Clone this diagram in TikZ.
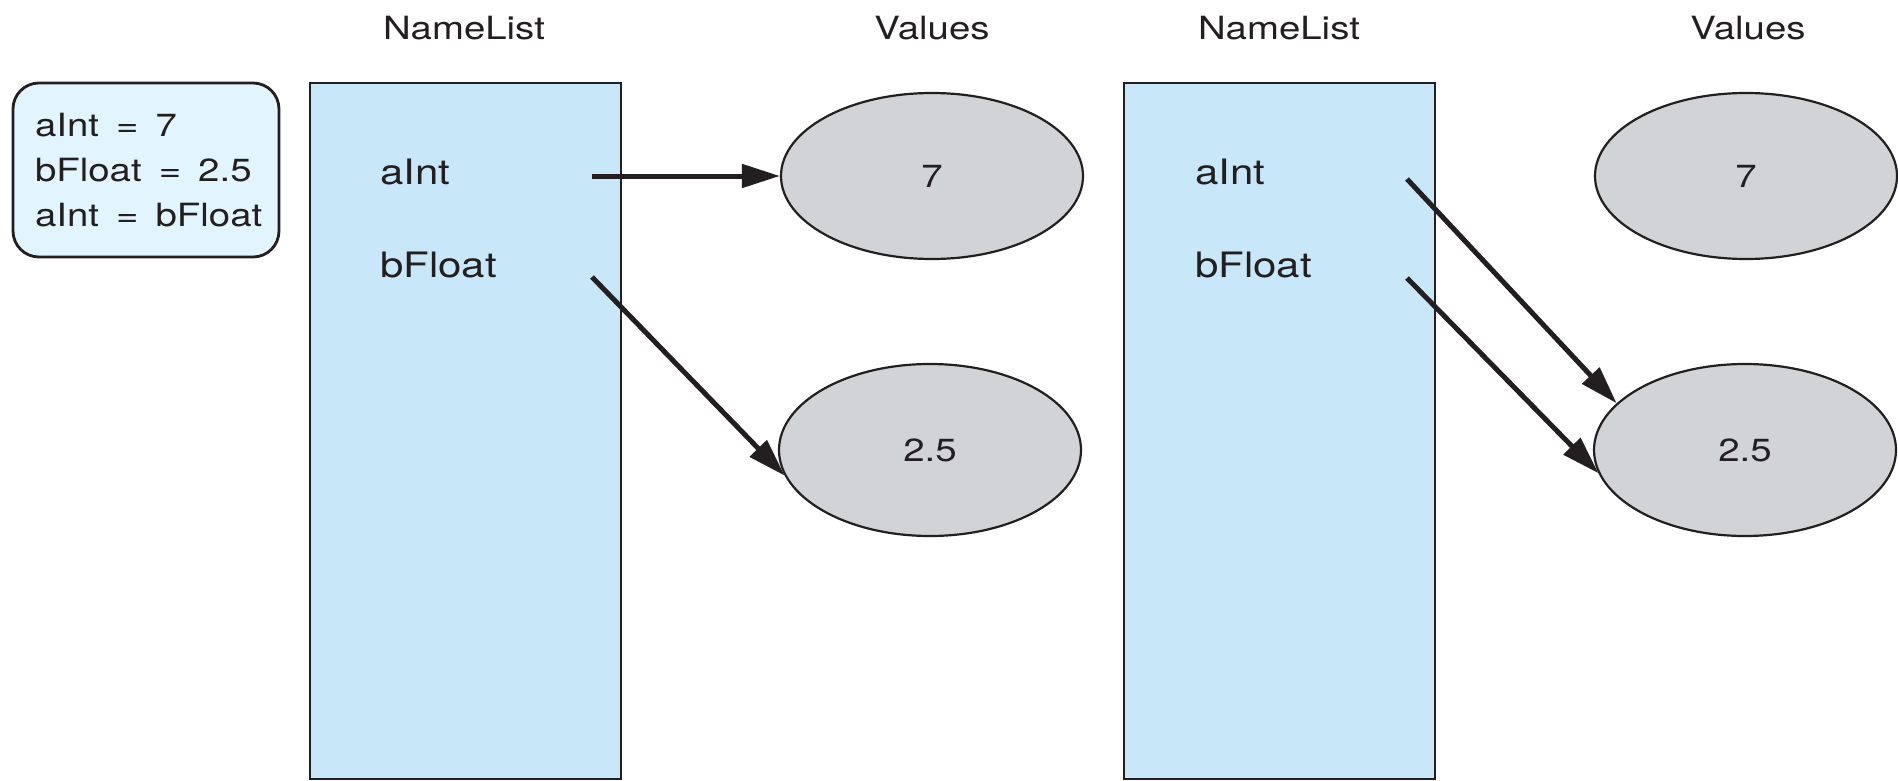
\documentclass[tikz,border=0pt]{standalone}
\usepackage{fontspec}
\setmainfont{TeX Gyre Heros}[FakeStretch=1.2]
\usetikzlibrary{arrows.meta,shapes.geometric}
\definecolor{ink}{HTML}{231F20}
\definecolor{listblue}{HTML}{C8E8FA}
\definecolor{codeblue}{HTML}{E2F4FD}
\definecolor{valgray}{HTML}{D1D3D6}
% spaced, unbreakable equals sign for the statements
\newcommand{\eqs}{\mbox{\ \hspace{0.2em}=\hspace{0.2em}\ }}
\tikzset{
  txt/.style={font=\fontsize{32pt}{45pt}\selectfont, text=ink, inner sep=0pt},
  heading/.style={txt, anchor=base},
  varname/.style={txt, font=\fontsize{35pt}{45pt}\selectfont, anchor=base west},
  codebox/.style={txt, draw=ink, line width=2.8pt, fill=codeblue, rounded corners=26pt,
    minimum width=266pt, minimum height=174pt, text width=222pt, align=left},
  namelist/.style={draw=ink, line width=2.5pt, fill=listblue,
    minimum width=311pt, minimum height=696pt, inner sep=0pt},
  valuebox/.style={txt, ellipse, draw=ink, line width=2.2pt, fill=valgray,
    minimum width=302pt, minimum height=166pt},
  ptr/.style={draw=ink, line width=5pt, -{Triangle[length=38pt,width=23pt]}},
}
\begin{document}
\begin{tikzpicture}[x=1pt, y=-1pt]
  \useasboundingbox (0,0) rectangle (1898,781);
  \fill[white] (0,0) rectangle (1898,781);

  % the three statements
  \node[codebox] (code) at (146,170) {aInt\eqs 7\\bFloat\eqs 2.5\\aInt\eqs bFloat};

  % column headings
  \node[heading] (hn1) at (464,40) {NameList};
  \node[heading] (hv1) at (932,40) {Values};
  \node[heading] (hn2) at (1279,40) {NameList};
  \node[heading] (hv2) at (1748,40) {Values};

  % name lists
  \node[namelist] (nl1) at (465.5,431) {};
  \node[namelist] (nl2) at (1279.5,431) {};

  \node[varname] (a1) at (380,184) {aInt};
  \node[varname] (b1) at (380,277) {bFloat};
  \node[varname] (a2) at (1195,184) {aInt};
  \node[varname] (b2) at (1195,277) {bFloat};

  % value objects
  \node[valuebox] (s1) at (932,176) {7};
  \node[valuebox, minimum height=172pt] (f1) at (930,450) {2.5};
  \node[valuebox] (s2) at (1746,176) {7};
  \node[valuebox, minimum height=172pt] (f2) at (1745,450) {2.5};

  % reference starting points
  \coordinate (pa1) at (592,176);
  \coordinate (pb1) at (592,277);
  \coordinate (pa2) at (1407,179);
  \coordinate (pb2) at (1407,278);

  % references before the assignment
  \draw[ptr] (pa1) -- (s1.west);
  \draw[ptr] (pb1) -- (f1.190);

  % references after the assignment
  \draw[ptr] (pa2) -- (f2.160);
  \draw[ptr] (pb2) -- (f2.189);
\end{tikzpicture}
\end{document}
